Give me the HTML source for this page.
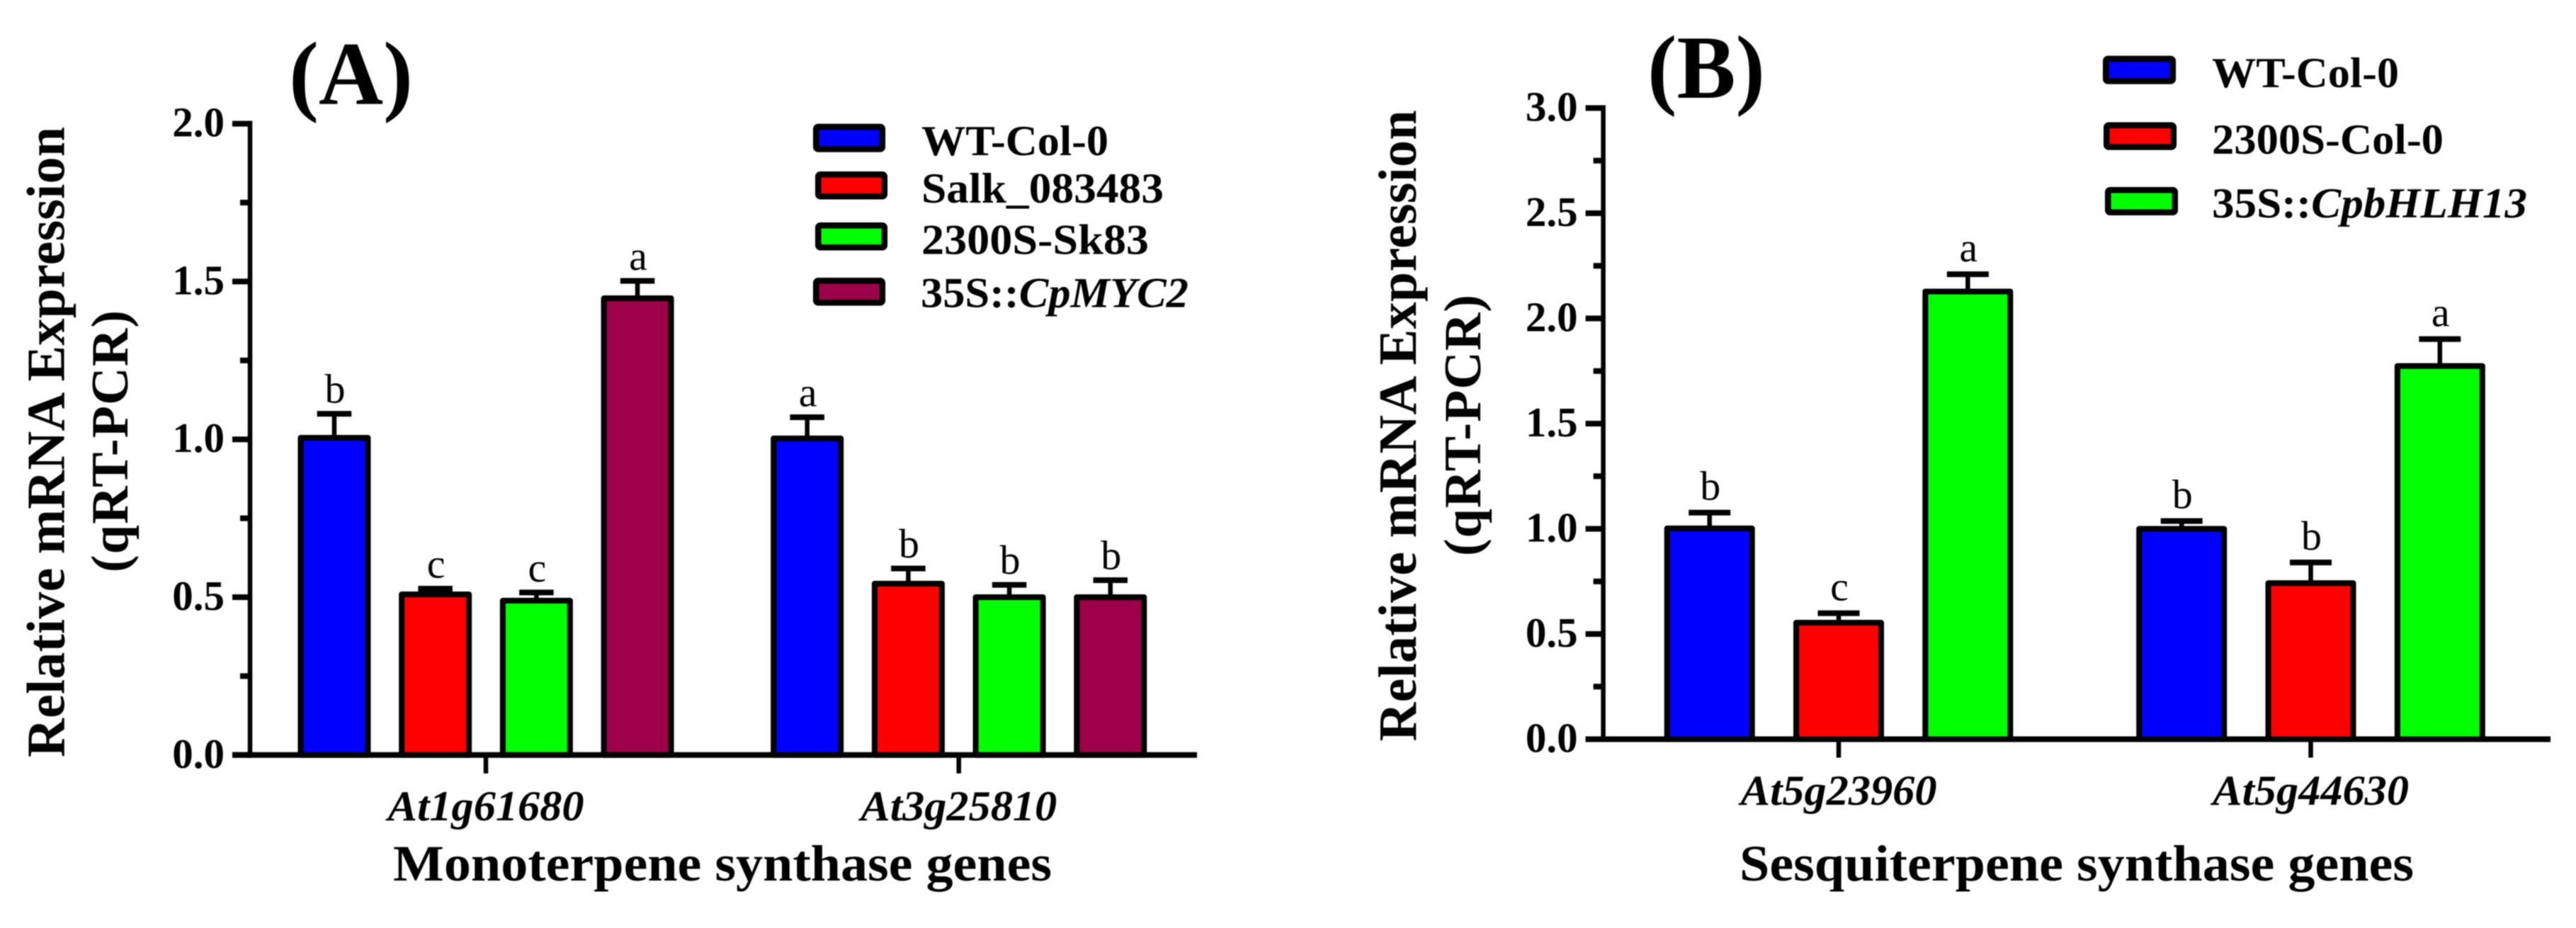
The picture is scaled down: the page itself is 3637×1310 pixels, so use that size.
<!DOCTYPE html>
<html lang="en">
<head>
<meta charset="utf-8">
<title>Relative mRNA expression of terpene synthase genes</title>
<style>
html,body{margin:0;padding:0;background:#fff;width:3637px;height:1310px;overflow:hidden}
svg{display:block;filter:blur(0.8px)}
text{font-family:"Liberation Serif","DejaVu Serif",serif;fill:#000}
.b{font-weight:bold}
.leg{font-weight:bold;font-size:60px}
</style>
</head>
<body>
<svg id="figure" width="3637" height="1310" viewBox="0 0 3637 1310" xmlns="http://www.w3.org/2000/svg">
  <rect x="0" y="0" width="3637" height="1310" fill="#fff"/>
  <g id="panel-a">
    <text class="b" x="408" y="147" font-size="127" textLength="175" lengthAdjust="spacingAndGlyphs">(A)</text>
    <text class="b" font-size="76" transform="translate(90.5,1069) rotate(-90)" textLength="890" lengthAdjust="spacing">Relative mRNA Expression</text>
    <text class="b" font-size="74" transform="translate(180,808) rotate(-90)" textLength="370" lengthAdjust="spacing">(qRT-PCR)</text>
    <text class="b" x="555" y="1243" font-size="72" textLength="930" lengthAdjust="spacingAndGlyphs">Monoterpene synthase genes</text>
    <g>
      <rect x="1152.2" y="179" width="93.6" height="31.5" rx="3" fill="#0000ff" stroke="#000" stroke-width="8.5"/>
      <text class="leg" x="1301" y="219" textLength="264" lengthAdjust="spacingAndGlyphs">WT-Col-0</text>
      <rect x="1155.2" y="246.3" width="93.6" height="31" rx="3" fill="#ff0000" stroke="#000" stroke-width="8.5"/>
      <text class="leg" x="1301" y="286" textLength="342" lengthAdjust="spacingAndGlyphs">Salk_083483</text>
      <rect x="1155.2" y="318.3" width="93.6" height="31" rx="3" fill="#00ff00" stroke="#000" stroke-width="8.5"/>
      <text class="leg" x="1301" y="358.5" textLength="321" lengthAdjust="spacingAndGlyphs">2300S-Sk83</text>
      <rect x="1152.2" y="396.3" width="93.6" height="31" rx="3" fill="#9b0048" stroke="#000" stroke-width="8.5"/>
      <text class="leg" x="1300" y="433.5" textLength="378" lengthAdjust="spacingAndGlyphs">35S::<tspan font-style="italic">CpMYC2</tspan></text>
    </g>
  </g>
  <g id="panel-b">
    <text class="b" x="2326" y="138" font-size="127" textLength="166" lengthAdjust="spacingAndGlyphs">(B)</text>
    <text class="b" font-size="76" transform="translate(1999,1046.5) rotate(-90)" textLength="891" lengthAdjust="spacing">Relative mRNA Expression</text>
    <text class="b" font-size="74" transform="translate(2090,785) rotate(-90)" textLength="369" lengthAdjust="spacing">(qRT-PCR)</text>
    <text class="b" x="2456" y="1243" font-size="72" textLength="952" lengthAdjust="spacingAndGlyphs">Sesquiterpene synthase genes</text>
    <g>
      <rect x="2973.2" y="83" width="94.6" height="31.5" rx="3" fill="#0000ff" stroke="#000" stroke-width="8.5"/>
      <text class="leg" x="3123" y="123" textLength="264" lengthAdjust="spacingAndGlyphs">WT-Col-0</text>
      <rect x="2974.2" y="176.8" width="94.6" height="30.7" rx="3" fill="#ff0000" stroke="#000" stroke-width="8.5"/>
      <text class="leg" x="3123" y="216.8" textLength="327" lengthAdjust="spacingAndGlyphs">2300S-Col-0</text>
      <rect x="2976.2" y="268.3" width="94.6" height="31.4" rx="3" fill="#00ff00" stroke="#000" stroke-width="8.5"/>
      <text class="leg" x="3123" y="307" textLength="445" lengthAdjust="spacingAndGlyphs">35S::<tspan font-style="italic">CpbHLH13</tspan></text>
    </g>
  </g>
</svg>
<script>
// Panel A data
const panelACategories = ['At1g61680', 'At3g25810'];
const panelAColors = ['#0000ff', '#ff0000', '#00ff00', '#9b0048'];
const panelAWtCol0 = [1.005, 1.003];
const panelASalk = [0.509, 0.543];
const panelA2300S = [0.489, 0.500];
const panelA35S = [1.447, 0.500];
const panelAWtCol0Upper = [1.081, 1.070];
const panelASalkUpper = [0.527, 0.591];
const panelA2300SUpper = [0.515, 0.539];
const panelA35SUpper = [1.502, 0.554];
const panelAWtCol0Letters = ['b', 'a'];
const panelASalkLetters = ['c', 'b'];
const panelA2300SLetters = ['c', 'b'];
const panelA35SLetters = ['a', 'b'];
const panelAMajorTicks = [0, 0.5, 1.0, 1.5, 2.0];
const panelAMinorTicks = [0.25, 0.75, 1.25, 1.75];

// Panel B data
const panelBCategories = ['At5g23960', 'At5g44630'];
const panelBColors = ['#0000ff', '#ff0000', '#00ff00'];
const panelBWtCol0 = [1.002, 1.000];
const panelB2300S = [0.554, 0.742];
const panelB35S = [2.128, 1.774];
const panelBWtCol0Upper = [1.077, 1.037];
const panelB2300SUpper = [0.599, 0.840];
const panelB35SUpper = [2.210, 1.902];
const panelBWtCol0Letters = ['b', 'b'];
const panelB2300SLetters = ['c', 'b'];
const panelB35SLetters = ['a', 'a'];
const panelBMajorTicks = [0, 0.5, 1.0, 1.5, 2.0, 2.5, 3.0];
const panelBMinorTicks = [0.25, 0.75, 1.25, 1.75, 2.25, 2.75];

const SVG_NS = 'http://www.w3.org/2000/svg';

function make(parent, tag, attrs) {
  const el = document.createElementNS(SVG_NS, tag);
  for (const k in attrs) el.setAttribute(k, attrs[k]);
  parent.appendChild(el);
  return el;
}

function drawPanel(parent, layout, categories, colors, values, uppers, letters, majorTicks, minorTicks) {
  const yScale = v => layout.y0 - v * layout.pxPerUnit;
  const xScale = (g, s) => layout.groupCenters[g] + (s - (colors.length - 1) / 2) * layout.pitch;

  // error bars and bars
  colors.forEach((color, s) => {
    categories.forEach((cat, g) => {
      const cx = xScale(g, s);
      const top = yScale(values[s][g]);
      const capY = yScale(uppers[s][g]);

      const stem = make(parent, 'line', {x1: cx, x2: cx, y1: top, y2: capY, stroke: '#000', 'stroke-width': 6.5});
      
      

      const cap = make(parent, 'line', {x1: cx - layout.capWidth / 2, x2: cx + layout.capWidth / 2, y1: capY, y2: capY, stroke: '#000', 'stroke-width': 8});
      
      

      const bar = make(parent, 'rect', {x: cx - layout.barWidth / 2, y: top, width: layout.barWidth, height: layout.y0 - top, fill: color, stroke: '#000', 'stroke-width': 8, 'stroke-linejoin': 'round'});
      
      

      const letter = make(parent, 'text', {x: cx + 1, y: capY - layout.letterGap, 'font-size': 58, 'text-anchor': 'middle'});
      
      
      letter.textContent = letters[s][g];
    });
  });

  // y axis
  const yAxis = make(parent, 'line', {x1: layout.axisX, x2: layout.axisX, y1: yScale(majorTicks[majorTicks.length - 1]) - 4, y2: layout.y0 + 4, stroke: '#000', 'stroke-width': 6.5});
  
  

  // x axis
  const xAxis = make(parent, 'line', {x1: layout.axisX - 25, x2: layout.xEnd, y1: layout.y0, y2: layout.y0, stroke: '#000', 'stroke-width': 8});
  
  

  majorTicks.forEach(t => {
    const y = yScale(t);
    const tick = make(parent, 'line', {x1: layout.axisX - 25, x2: layout.axisX, y1: y, y2: y, stroke: '#000', 'stroke-width': 8});
    
    

    const label = make(parent, 'text', {x: layout.axisX - 36, y: y + 18, 'font-size': 59, 'font-weight': 'bold', 'text-anchor': 'end'});
    
    
    label.textContent = t.toFixed(1);
  });

  minorTicks.forEach(t => {
    const y = yScale(t);
    const tick = make(parent, 'line', {x1: layout.axisX - 14, x2: layout.axisX, y1: y, y2: y, stroke: '#000', 'stroke-width': 8});
    
    
  });

  categories.forEach((cat, g) => {
    const cx = layout.groupCenters[g];
    const tick = make(parent, 'line', {x1: cx, x2: cx, y1: layout.y0, y2: layout.y0 + 26, stroke: '#000', 'stroke-width': 6.5});
    
    

    const label = make(parent, 'text', {x: cx, y: layout.catBaseline, 'font-size': 60, 'font-weight': 'bold', 'font-style': 'italic', 'text-anchor': 'middle', textLength: 277, lengthAdjust: 'spacingAndGlyphs'});
    
    
    label.textContent = cat;
  });
}

drawPanel(
  document.getElementById('panel-a'),
  {y0: 1065.8, pxPerUnit: 445.6, axisX: 353, xEnd: 1690, groupCenters: [686, 1353.7], pitch: 142.7, barWidth: 95, capWidth: 48.5, letterGap: 15.5, catBaseline: 1158},
  panelACategories,
  panelAColors,
  [panelAWtCol0, panelASalk, panelA2300S, panelA35S],
  [panelAWtCol0Upper, panelASalkUpper, panelA2300SUpper, panelA35SUpper],
  [panelAWtCol0Letters, panelASalkLetters, panelA2300SLetters, panelA35SLetters],
  panelAMajorTicks,
  panelAMinorTicks
);

drawPanel(
  document.getElementById('panel-b'),
  {y0: 1043.5, pxPerUnit: 297, axisX: 2263.6, xEnd: 3601, groupCenters: [2596, 3262.5], pitch: 182.3, barWidth: 120, capWidth: 59, letterGap: 18, catBaseline: 1136},
  panelBCategories,
  panelBColors,
  [panelBWtCol0, panelB2300S, panelB35S],
  [panelBWtCol0Upper, panelB2300SUpper, panelB35SUpper],
  [panelBWtCol0Letters, panelB2300SLetters, panelB35SLetters],
  panelBMajorTicks,
  panelBMinorTicks
);
</script>
</body>
</html>
